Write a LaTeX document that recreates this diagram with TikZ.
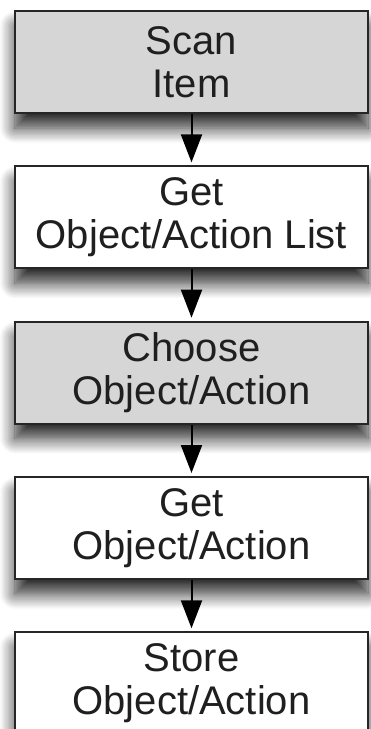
\documentclass[tikz,border=0pt]{standalone}
\usepackage{fontspec}
\setmainfont{Liberation Sans}
\usetikzlibrary{positioning}
\usetikzlibrary{arrows.meta}
\usetikzlibrary{shadows.blur}
\definecolor{boxgray}{RGB}{214,214,214}

\begin{document}
\begin{tikzpicture}[x=1pt,y=1pt,node distance=51.5pt,
    stepbox/.style={draw=black!85,line width=1.8pt,fill=white,text=black!88,
      minimum width=353pt,minimum height=102pt,align=center,
      font=\fontsize{40}{43}\selectfont,
      blur shadow={shadow xshift=0pt,shadow yshift=-15pt,shadow blur radius=15pt,
        shadow blur steps=12,shadow opacity=85}},
    graybox/.style={stepbox,fill=boxgray},
    flow/.style={line width=2pt,-{Triangle[length=28pt,width=21pt]},shorten >=3pt}]
    \useasboundingbox (0,0) rectangle (370,-729);
        \node[graybox] (scan) at (191.5,-62) {Scan\\Item};
        \node[stepbox, below=of scan] (getlist) {Get\\Object/Action List};
        \node[graybox, below=of getlist] (choose) {Choose\\Object/Action};
        \node[stepbox, below=of choose] (getobj) {Get\\Object/Action};
        \node[stepbox, below=of getobj] (store) {Store\\Object/Action};

        \draw[flow] (scan) -- (getlist);
        \draw[flow] (getlist) -- (choose);
        \draw[flow] (choose) -- (getobj);
        \draw[flow] (getobj) -- (store);
    \end{tikzpicture}
\end{document}
